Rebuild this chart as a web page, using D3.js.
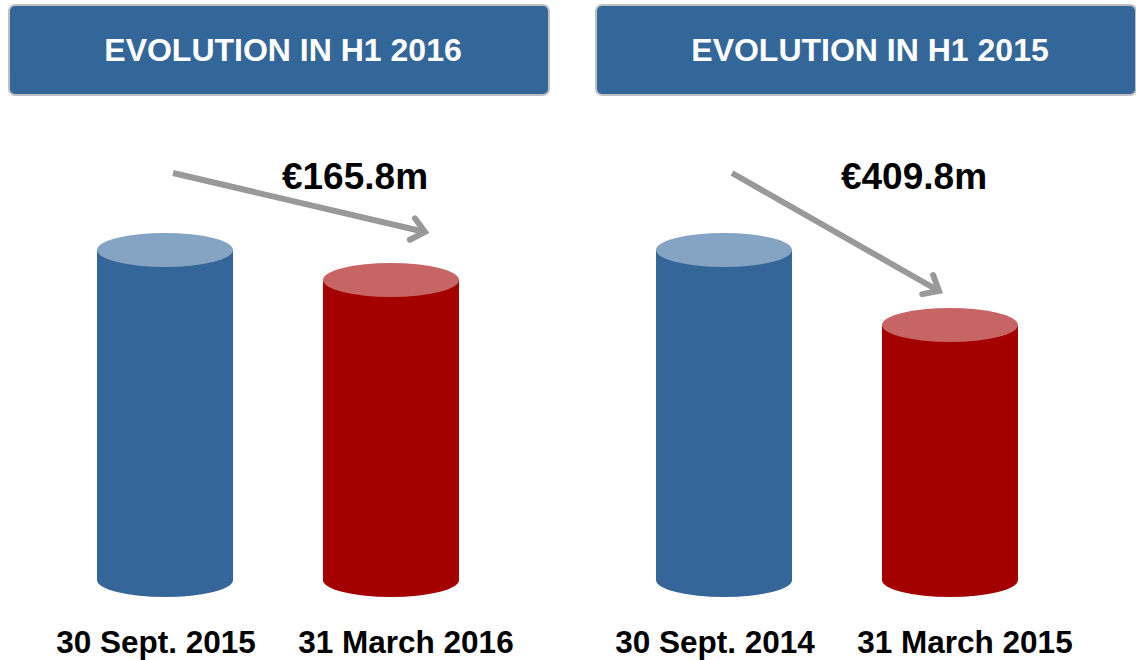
<!DOCTYPE html>
<html><head><meta charset="utf-8"><title>Evolution in H1</title>
<style>
    body {
        margin: 0;
        background-color: #ffffff;
        font-family: 'Liberation Sans', Arial, sans-serif;
    }
    #chart {
        width: 1136px;
        height: 660px;
    }
</style>
<script src="https://cdnjs.cloudflare.com/ajax/libs/d3/7.8.5/d3.min.js"></script>
</head>
<body>
<div id="chart"></div>

<script>
// Chart data (EUR m), one entry per panel
const panelTitles = ["EVOLUTION IN H1 2016", "EVOLUTION IN H1 2015"];
const dateLabels2016 = ["30 Sept. 2015", "31 March 2016"];
const dateLabels2015 = ["30 Sept. 2014", "31 March 2015"];
const values2016 = [1823.8, 1658.0];
const values2015 = [1803.1, 1393.3];
const changeLabels = ["€165.8m", "€409.8m"];

const panels = [
    { title: panelTitles[0], cats: dateLabels2016, values: values2016, change: changeLabels[0], x0: 0, boxX: 9, arrowEnd: [37, -47] },
    { title: panelTitles[1], cats: dateLabels2015, values: values2015, change: changeLabels[1], x0: 559, boxX: 37, arrowEnd: [-8, -33] }
];

const width = 1136;
const height = 660;
const colors = {
    body: ["#346699", "#a40000"],
    top: ["#85a3c3", "#c76565"]
};

const svg = d3.select("#chart")
    .append("svg")
    .attr("width", width)
    .attr("height", height);

const defs = svg.append("defs");
defs.append("marker")
    .attr("id", "chevron")
    .attr("viewBox", "-18 -15 22 30")
    .attr("markerWidth", 22)
    .attr("markerHeight", 30)
    .attr("markerUnits", "userSpaceOnUse")
    .attr("refX", 0)
    .attr("refY", 0)
    .attr("orient", "auto")
    .append("path")
    .attr("d", "M-13,-11 L0,0 L-13,11")
    .attr("fill", "none")
    .attr("stroke", "#999999")
    .attr("stroke-width", 6)
    .attr("stroke-linecap", "round")
    .attr("stroke-linejoin", "miter");

const rx = 68, ry = 17;
const baseY = 580;

panels.forEach(p => {
    const g = svg.append("g").attr("transform", `translate(${p.x0},0)`);

    // header box
    g.append("rect")
        .attr("x", p.boxX)
        .attr("y", 5)
        .attr("width", 540)
        .attr("height", 90)
        .attr("rx", 6)
        .attr("fill", "#336699")
        .attr("stroke", "#c0c0c0")
        .attr("stroke-width", 2);

    g.append("text")
        .attr("x", p.boxX + 274)
        .attr("y", 61)
        .attr("text-anchor", "middle")
        .attr("fill", "#ffffff")
        .attr("font-weight", "bold")
        .attr("font-size", "32px")
        .text(p.title);

    const x = d3.scaleBand()
        .domain(p.cats)
        .range([97, 459])
        .paddingInner(0.398)
        .paddingOuter(0);

    const y = d3.scaleLinear()
        .domain([0, d3.max(p.values)])
        .range([baseY, 250]);

    const data = p.cats.map((c, i) => ({ cat: c, value: p.values[i], i: i }));

    const cyl = g.selectAll("g.cyl")
        .data(data)
        .enter().append("g")
        .attr("class", "cyl");

    cyl.append("path")
        .attr("d", d => {
            const xl = x(d.cat), xr = x(d.cat) + x.bandwidth();
            const yt = y(d.value), yb = y(0);
            return `M${xl},${yt} L${xl},${yb} A${rx},${ry} 0 0 0 ${xr},${yb} L${xr},${yt} Z`;
        })
        .attr("fill", d => colors.body[d.i]);

    cyl.append("ellipse")
        .attr("cx", d => x(d.cat) + x.bandwidth() / 2)
        .attr("cy", d => y(d.value))
        .attr("rx", rx)
        .attr("ry", ry)
        .attr("fill", d => colors.top[d.i]);

    // category labels
    const labelShift = [-9, 15];
    g.selectAll("text.cat")
        .data(data)
        .enter().append("text")
        .attr("class", "cat")
        .attr("x", d => x(d.cat) + x.bandwidth() / 2 + labelShift[d.i])
        .attr("y", 653)
        .attr("text-anchor", "middle")
        .attr("font-weight", "bold")
        .attr("font-size", "31.5px")
        .attr("fill", "#000000")
        .text(d => d.cat);

    // change arrow and label
    const c0 = x(p.cats[0]) + x.bandwidth() / 2;
    const c1 = x(p.cats[1]) + x.bandwidth() / 2;
    g.append("line")
        .attr("x1", c0 + 8)
        .attr("y1", y(p.values[0]) - 77)
        .attr("x2", c1 + p.arrowEnd[0] - 3)
        .attr("y2", y(p.values[1]) + p.arrowEnd[1] - 1)
        .attr("stroke", "#999999")
        .attr("stroke-width", 6)
        .attr("marker-end", "url(#chevron)");

    g.append("text")
        .attr("x", c0 + 190)
        .attr("y", 189)
        .attr("text-anchor", "middle")
        .attr("font-weight", "bold")
        .attr("font-size", "37px")
        .attr("fill", "#000000")
        .text(p.change);
});
</script>
</body>
</html>
